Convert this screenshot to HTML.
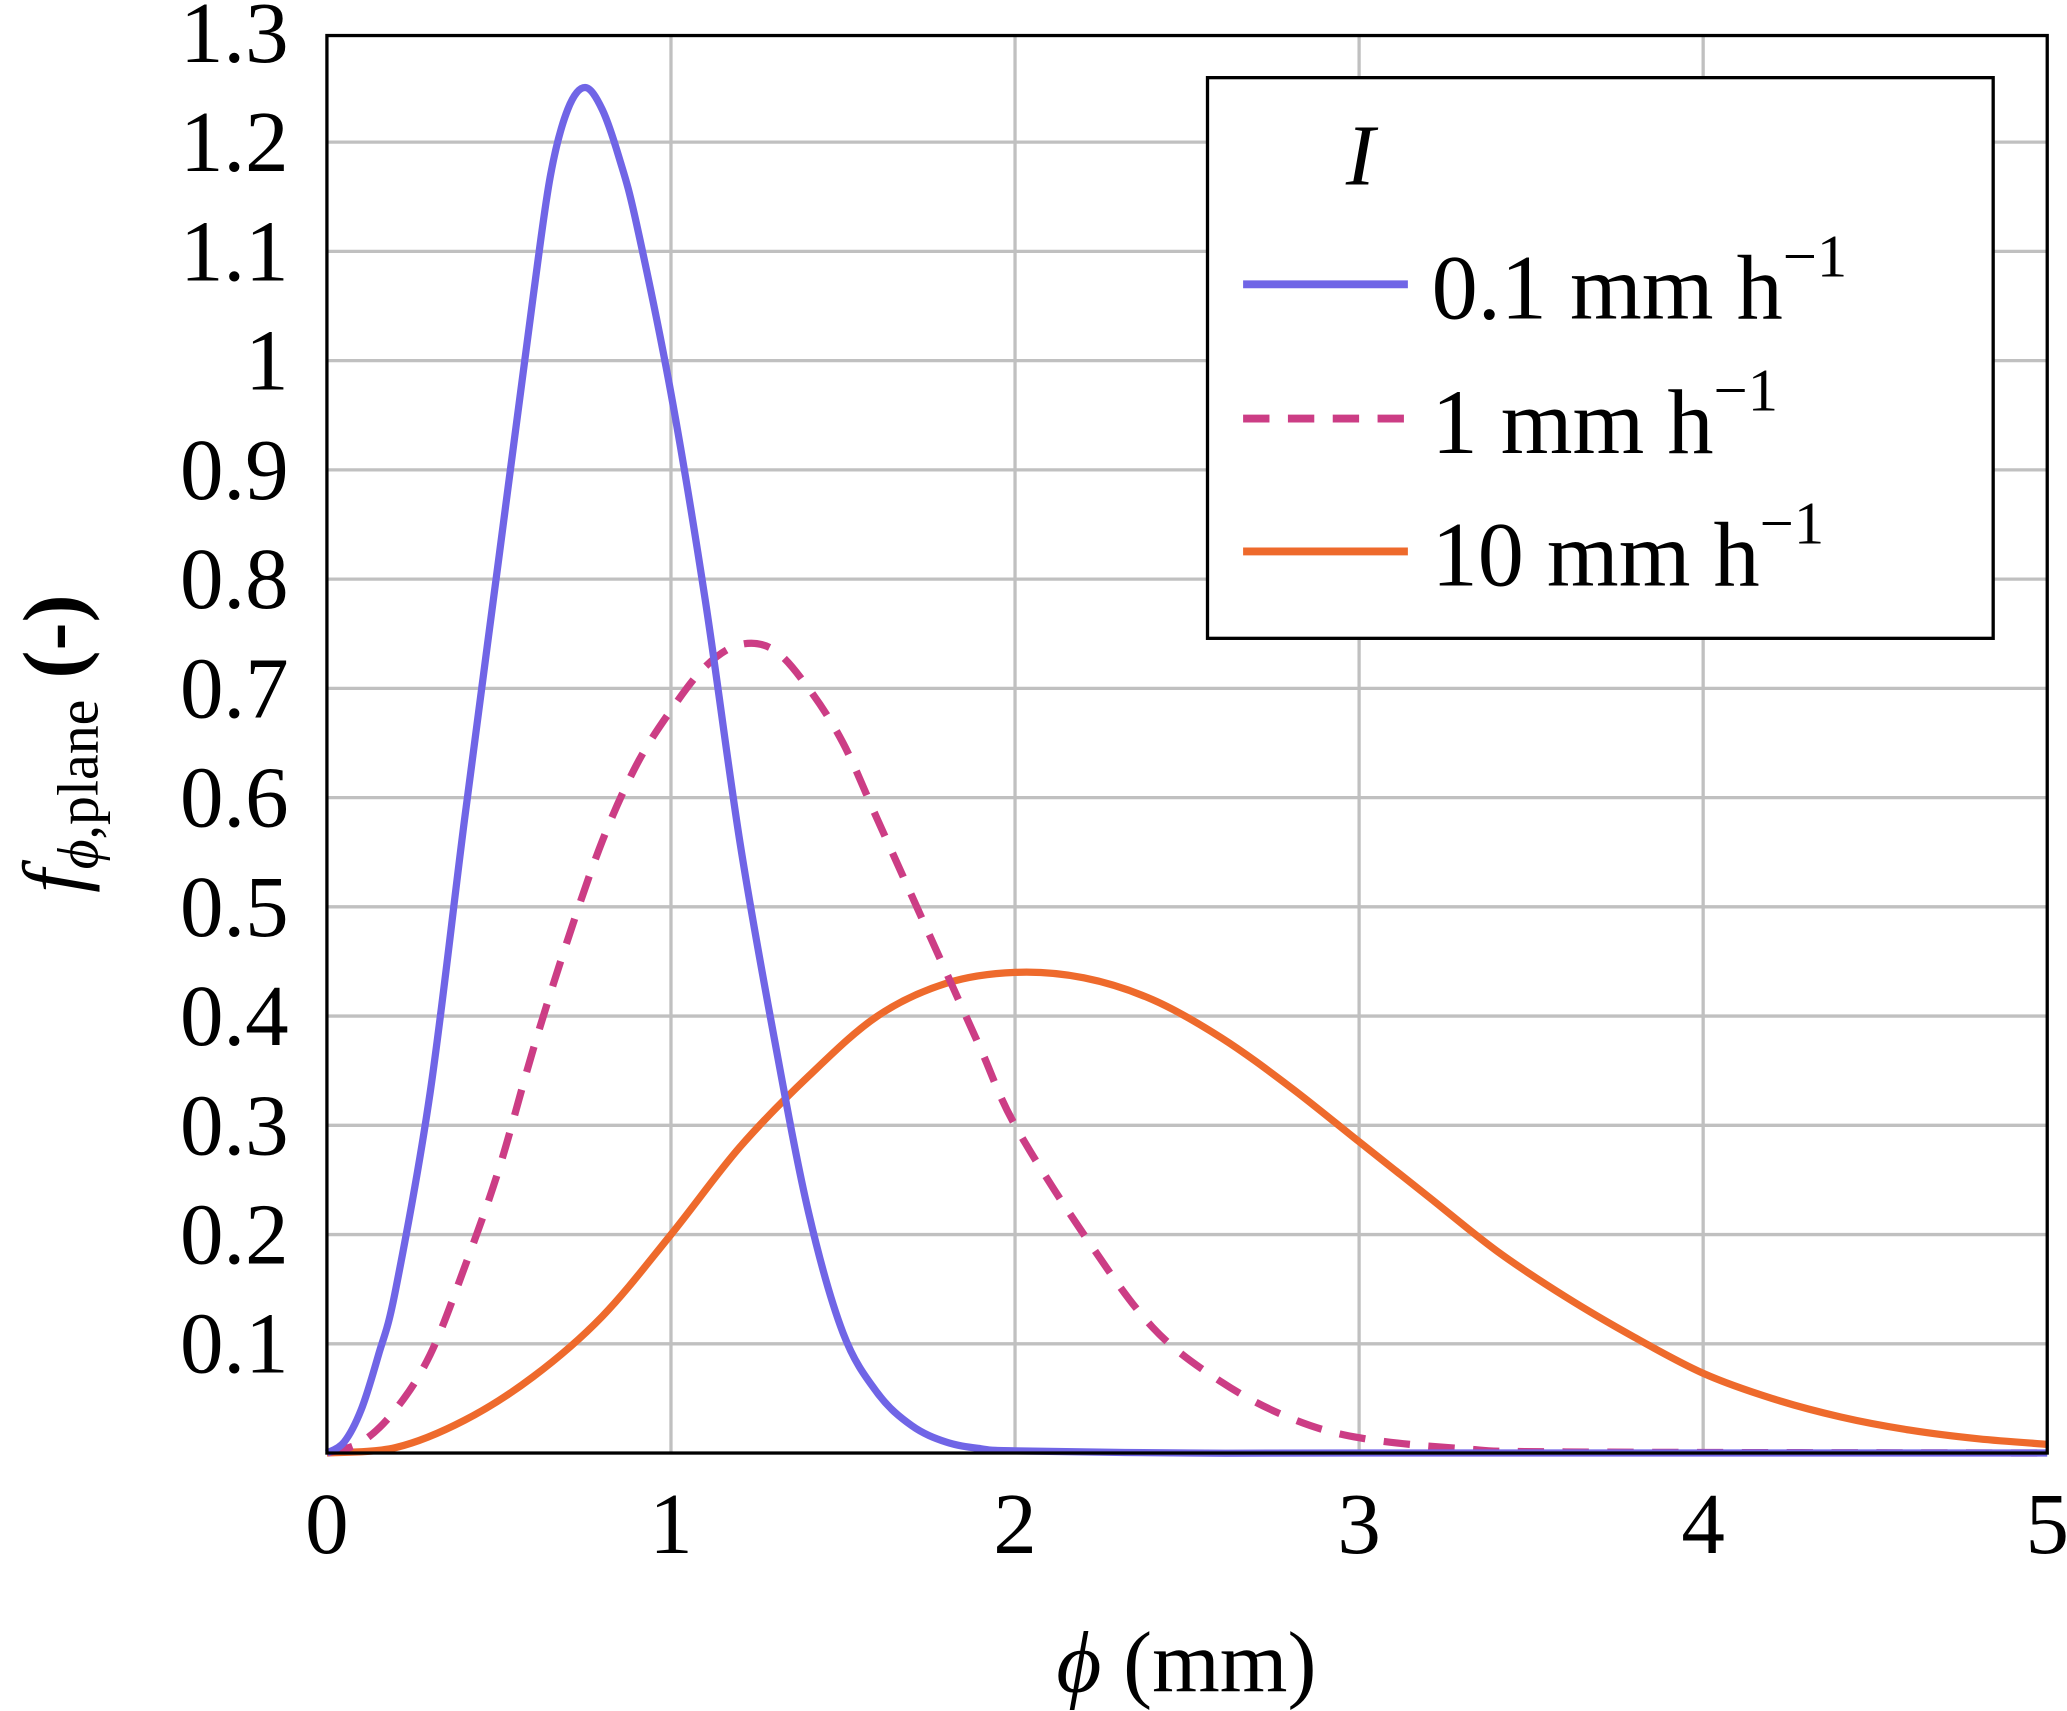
<!DOCTYPE html>
<html><head><meta charset="utf-8"><style>
html,body{margin:0;padding:0;background:#fff;}
svg{display:block;}
text{font-family:"Liberation Serif","DejaVu Serif",serif;fill:#000;}
</style></head><body>
<svg id="chart" width="2067" height="1711" viewBox="0 0 1568 1300" preserveAspectRatio="none" xmlns="http://www.w3.org/2000/svg">
<g id="grid"></g>
<g id="series"></g>
<rect x="248" y="27" width="1305" height="1077" fill="none" stroke="#000" stroke-width="2.5"/>
<g id="ticks"></g>
<text x="900" y="1285" font-size="66" text-anchor="middle"><tspan font-style="italic">ϕ</tspan> (mm)</text>
<text transform="translate(62,565) rotate(-90)" font-size="64" text-anchor="middle"><tspan font-style="italic">f</tspan><tspan font-size="44" dy="12"><tspan font-style="italic">ϕ</tspan>,plane</tspan><tspan dy="-12" font-weight="bold"> (-)</tspan></text>
<g>
<rect x="916" y="59" width="596" height="426" fill="#fff" stroke="#000" stroke-width="2.5"/>
<text x="1032" y="140" font-size="66" font-style="italic" text-anchor="middle">I</text>
<line x1="943" y1="216" x2="1068" y2="216" stroke="#7065e6" stroke-width="6"/>
<text x="1086" y="242" font-size="70">0.1 mm h<tspan font-size="46" dy="-32">−1</tspan></text>
<line x1="943" y1="318" x2="1068" y2="318" stroke="#cc3d85" stroke-width="6" stroke-dasharray="20,14"/>
<text x="1086" y="344" font-size="70">1 mm h<tspan font-size="46" dy="-32">−1</tspan></text>
<line x1="943" y1="419" x2="1068" y2="419" stroke="#ee6a2c" stroke-width="6"/>
<text x="1086" y="445" font-size="70">10 mm h<tspan font-size="46" dy="-32">−1</tspan></text>
</g>
</svg>
<script>
const xTicks = [0,1,2,3,4,5];
const yTicks = [0.1,0.2,0.3,0.4,0.5,0.6,0.7,0.8,0.9,1,1.1,1.2,1.3];
const yTickLabels = ["0.1","0.2","0.3","0.4","0.5","0.6","0.7","0.8","0.9","1","1.1","1.2","1.3"];
const blueX = [0,0.05,0.1,0.15,0.2,0.3,0.4,0.5,0.6,0.65,0.7,0.75,0.8,0.85,0.9,1.0,1.1,1.2,1.3,1.4,1.5,1.6,1.7,1.8,1.9,2.0,2.5,3,5];
const blueY = [0,0.01,0.04,0.09,0.15,0.33,0.58,0.82,1.06,1.17,1.23,1.25,1.23,1.185,1.125,0.97,0.78,0.56,0.38,0.22,0.11,0.055,0.025,0.01,0.004,0.002,0,0,0];
const pinkX = [0,0.1,0.2,0.3,0.4,0.5,0.6,0.7,0.8,0.9,1.0,1.1,1.2,1.3,1.4,1.5,1.6,1.7,1.8,1.9,2.0,2.2,2.4,2.6,2.8,3.0,3.3,3.6,5];
const pinkY = [0,0.01,0.04,0.09,0.17,0.26,0.37,0.47,0.56,0.63,0.68,0.72,0.74,0.735,0.70,0.65,0.58,0.51,0.44,0.37,0.30,0.20,0.115,0.065,0.032,0.014,0.004,0.001,0];
const orangeX = [0,0.2,0.4,0.6,0.8,1.0,1.2,1.4,1.6,1.8,2.0,2.2,2.4,2.6,2.8,3.0,3.2,3.4,3.6,3.8,4.0,4.2,4.4,4.6,4.8,5.0];
const orangeY = [0,0.005,0.03,0.07,0.125,0.20,0.28,0.345,0.40,0.43,0.44,0.435,0.415,0.38,0.335,0.285,0.235,0.185,0.143,0.106,0.073,0.05,0.033,0.021,0.013,0.008];

const NS = "http://www.w3.org/2000/svg";
const X = v => 248 + v * 261;
const Y = v => 1104 - v * 830;
function mk(tag, attrs, parent){ const e=document.createElementNS(NS,tag); for(const k in attrs) e.setAttribute(k,attrs[k]); parent.appendChild(e); return e; }
const grid = document.getElementById('grid'), ticks = document.getElementById('ticks'), series = document.getElementById('series');
xTicks.forEach(t=>{
  if(t>0 && t<5){ const l=mk('line',{x1:X(t),x2:X(t),y1:27,y2:1104,stroke:'#c0c0c0','stroke-width':2.5},grid);
    
     }
  const tx=mk('text',{x:X(t),y:1180,'font-size':66,'text-anchor':'middle'},ticks);
  tx.textContent=String(t);
  
  
});
yTicks.forEach((t,i)=>{
  if(t<1.3){ const l=mk('line',{x1:248,x2:1553,y1:Y(t),y2:Y(t),stroke:'#c0c0c0','stroke-width':2.5},grid);
    
     }
  const tx=mk('text',{x:219,y:Y(t)+22,'font-size':66,'text-anchor':'end'},ticks);
  tx.textContent=yTickLabels[i];
  
  
});
function pathFor(xs, ys){
  const p = xs.map((x,i)=>[X(x),Y(ys[i])]);
  let d = `M${p[0][0]},${p[0][1]}`;
  for(let i=0;i<p.length-1;i++){
    const p0=p[Math.max(0,i-1)], p1=p[i], p2=p[i+1], p3=p[Math.min(p.length-1,i+2)];
    const c1=[p1[0]+(p2[0]-p0[0])/6, p1[1]+(p2[1]-p0[1])/6];
    const c2=[p2[0]-(p3[0]-p1[0])/6, p2[1]-(p3[1]-p1[1])/6];
    d += ` C${c1[0]},${c1[1]} ${c2[0]},${c2[1]} ${p2[0]},${p2[1]}`;
  }
  return d;
}
const s3=mk('path',{d:pathFor(orangeX,orangeY),fill:'none',stroke:'#ee6a2c','stroke-width':5.5},series);


const s2=mk('path',{d:pathFor(pinkX,pinkY),fill:'none',stroke:'#cc3d85','stroke-width':5.5,'stroke-dasharray':'20,14'},series);


const s1=mk('path',{d:pathFor(blueX,blueY),fill:'none',stroke:'#7065e6','stroke-width':5.5},series);


</script>
</body></html>
